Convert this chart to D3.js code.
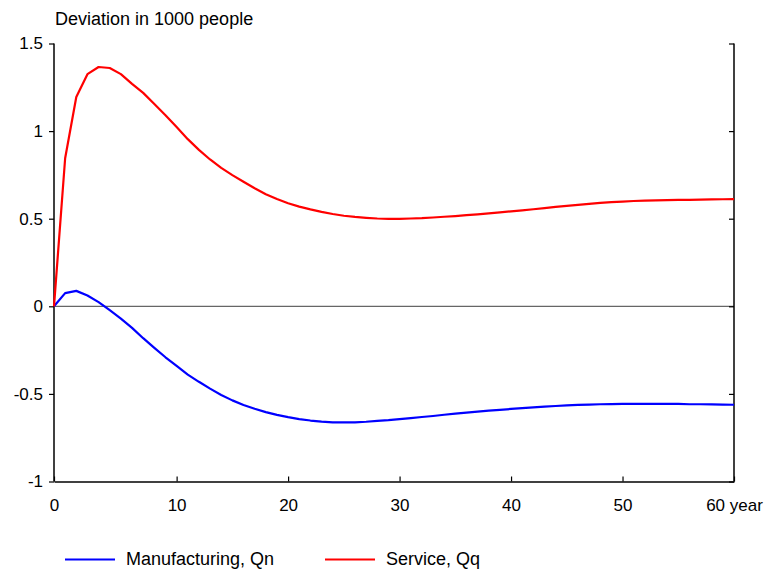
<!DOCTYPE html>
<html><head><meta charset="utf-8">
<script src="https://cdn.jsdelivr.net/npm/d3@7"></script>
<style>body{margin:0;background:#fff}svg{display:block}text{font-family:"Liberation Sans",Arial,sans-serif;fill:#000}</style>
</head><body><svg id="c" width="766" height="574"></svg>
<script>
// periods: -1 (pre-shock steady state) .. 60
const periods = d3.range(-1, 61);
const manufacturing = [0,0.075,0.088,0.062,0.024,-0.022,-0.07,-0.123,-0.182,-0.237,-0.291,-0.34,-0.39,-0.431,-0.47,-0.506,-0.537,-0.563,-0.585,-0.604,-0.62,-0.633,-0.644,-0.652,-0.658,-0.662,-0.663,-0.662,-0.659,-0.654,-0.65,-0.644,-0.638,-0.632,-0.626,-0.619,-0.613,-0.607,-0.601,-0.595,-0.591,-0.586,-0.581,-0.577,-0.573,-0.569,-0.565,-0.563,-0.561,-0.559,-0.558,-0.557,-0.557,-0.557,-0.557,-0.557,-0.557,-0.559,-0.559,-0.56,-0.561,-0.562];
const service = [0,0.845,1.195,1.325,1.366,1.36,1.325,1.27,1.218,1.155,1.091,1.023,0.954,0.893,0.838,0.79,0.749,0.711,0.674,0.64,0.612,0.588,0.569,0.553,0.539,0.527,0.517,0.51,0.505,0.501,0.4995,0.4995,0.501,0.503,0.507,0.511,0.515,0.52,0.525,0.53,0.536,0.542,0.548,0.554,0.56,0.567,0.573,0.579,0.585,0.59,0.595,0.598,0.601,0.603,0.605,0.606,0.607,0.608,0.609,0.61,0.611,0.612];
const xTicks = [-1,10,20,30,40,50,60];
const xTickLabels = ["0","10","20","30","40","50","60 year"];
const yTicks = [-1,-0.5,0,0.5,1,1.5];
const yTickLabels = ["-1","-0.5","0","0.5","1","1.5"];
const seriesNames = ["Manufacturing, Qn","Service, Qq"];
const seriesColors = ["#0000ff","#ff0000"];

const svg = d3.select("#c");
const x = d3.scaleLinear().domain([-1,60]).range([54,734]);
const y = d3.scaleLinear().domain([-1,1.5]).range([481.5,43.5]);

// zero line
svg.append("line").attr("x1",x(-1)).attr("x2",x(60)).attr("y1",y(0)).attr("y2",y(0))
  .attr("stroke","#666").attr("stroke-width",1.3);

const font = "Liberation Sans, Arial, sans-serif";
const gl = svg.append("g").attr("transform",`translate(${x(-1)},0)`)
  .call(d3.axisLeft(y).tickValues(yTicks).tickFormat((d,i)=>yTickLabels[i]).tickSize(5).tickPadding(6));
const gr = svg.append("g").attr("transform",`translate(${x(60)},0)`)
  .call(d3.axisRight(y).tickValues(yTicks).tickFormat("").tickSize(-5));
const gb = svg.append("g").attr("transform",`translate(0,${y(-1)})`)
  .call(d3.axisBottom(x).tickValues(xTicks).tickFormat((d,i)=>xTickLabels[i]).tickSizeInner(-5).tickSizeOuter(0).tickPadding(17));
[gl,gr,gb].forEach(g=>{
  g.select(".domain").attr("stroke","#000").attr("stroke-width",1.5);
  g.selectAll(".tick line").attr("stroke","#000").attr("stroke-width",1.2);
  g.selectAll("text").attr("font-size",17).attr("font-family",font).attr("fill","#000");
});
gl.select(".domain").attr("d",`M0,${y(1.5)}V${y(-1)}`);
gr.select(".domain").attr("d",`M0,${y(1.5)}V${y(-1)}`);

svg.append("text").attr("x",55).attr("y",25).attr("font-size",18).text("Deviation in 1000 people");

const line = d3.line().x((d,i)=>x(periods[i])).y(d=>y(d));
[manufacturing, service].forEach((s,k)=>{
  svg.append("path").datum(s).attr("d",line).attr("fill","none")
    .attr("stroke",seriesColors[k]).attr("stroke-width",2.2).attr("stroke-linejoin","round");
});

const legX = [65,325];
seriesNames.forEach((n,k)=>{
  svg.append("line").attr("x1",legX[k]).attr("x2",legX[k]+50).attr("y1",559.5).attr("y2",559.5)
    .attr("stroke",seriesColors[k]).attr("stroke-width",2.2);
  svg.append("text").attr("x",legX[k]+61).attr("y",565).attr("font-size",18).text(n);
});
</script></body></html>
